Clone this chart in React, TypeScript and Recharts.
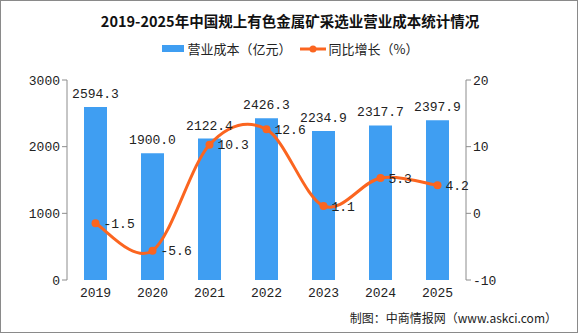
import React from 'react';
import {
  ComposedChart,
  Bar,
  Line,
  XAxis,
  YAxis,
  LabelList
} from 'recharts';

const years = ['2019', '2020', '2021', '2022', '2023', '2024', '2025'];
const cost = [2594.3, 1900.0, 2122.4, 2426.3, 2234.9, 2317.7, 2397.9];
const growth = [-1.5, -5.6, 10.3, 12.6, 1.1, 5.3, 4.2];

const leftTicks = [0, 1000, 2000, 3000];
const rightTicks = [-10, 0, 10, 20];
const boundaryTicks = [0, 1, 2, 3, 4, 5, 6, 7];

const data = years.map((y, i) => ({ year: y, cost: cost[i], growth: growth[i] }));

const BLUE = '#3f9ef2';
const ORANGE = '#fb6520';
const AXIS = '#8c8c8c';
const MONO = '"Liberation Mono", "DejaVu Sans Mono", monospace';
const CJK = '"Noto Sans CJK SC", sans-serif';

// smooth line like the spreadsheet one (catmull-rom through every point)
const smoothCurve = (context: any) => {
  let pts: number[][] = [];
  return {
    areaStart() {},
    areaEnd() {},
    lineStart() { pts = []; },
    point(x: number, y: number) { pts.push([+x, +y]); },
    lineEnd() {
      if (!pts.length) return;
      context.moveTo(pts[0][0], pts[0][1]);
      for (let i = 0; i < pts.length - 1; i++) {
        const p0 = pts[i - 1] || pts[i];
        const p1 = pts[i];
        const p2 = pts[i + 1];
        const p3 = pts[i + 2] || p2;
        context.bezierCurveTo(
          p1[0] + (p2[0] - p0[0]) / 6, p1[1] + (p2[1] - p0[1]) / 6,
          p2[0] - (p3[0] - p1[0]) / 6, p2[1] - (p3[1] - p1[1]) / 6,
          p2[0], p2[1]
        );
      }
    }
  };
};

const LegendBox = () => (
  <div style={{ position: 'absolute', top: 38, left: 0, width: 578, display: 'flex', justifyContent: 'center', alignItems: 'center', fontFamily: CJK, fontSize: 13, color: '#222' }}>
    <span style={{ display: 'inline-block', width: 22, height: 7, background: BLUE, marginRight: 4 }} />
    <span>营业成本（亿元）</span>
    <svg width={26} height={10} style={{ marginLeft: 8, marginRight: 3 }}>
      <line x1={0} y1={5} x2={26} y2={5} stroke={ORANGE} strokeWidth={3} />
      <circle cx={13} cy={5} r={3.5} fill={ORANGE} />
    </svg>
    <span>同比增长（%）</span>
  </div>
);

export default function App() {
  return (
    <div style={{ position: 'relative', width: 578, height: 333, background: '#fff', boxSizing: 'border-box', border: '1px solid #8a8a8a', overflow: 'hidden' }}>
      <style>{'body{margin:0}'}</style>
      <div style={{ position: 'absolute', top: 0, left: -1 }}>
        <ComposedChart width={578} height={333} data={data} margin={{ top: 79, right: 56, bottom: 24, left: 0 }}>
          <XAxis
            xAxisId="edge"
            type="number"
            domain={[0, 7]}
            ticks={boundaryTicks}
            tick={false}
            height={0}
            stroke={AXIS}
            tickSize={5}
          />
          <XAxis
            xAxisId="cat"
            dataKey="year"
            axisLine={false}
            tickLine={false}
            height={30}
            tick={{ fill: '#222', fontSize: 13, fontFamily: MONO }}
            tickMargin={2}
          />
          <YAxis
            yAxisId="left"
            domain={[0, 3000]}
            ticks={leftTicks}
            width={67}
            stroke={AXIS}
            tickSize={5}
            tick={{ fill: '#222', fontSize: 13, fontFamily: MONO }}
          />
          <YAxis
            yAxisId="right"
            orientation="right"
            domain={[-10, 20]}
            ticks={rightTicks}
            width={56}
            stroke={AXIS}
            tickSize={5}
            tick={{ fill: '#222', fontSize: 13, fontFamily: MONO }}
          />
          <Bar xAxisId="cat" yAxisId="left" dataKey="cost" fill={BLUE} barSize={23} isAnimationActive={false}>
            <LabelList dataKey="cost" position="top" offset={9} formatter={(v: any) => Number(v).toFixed(1)} style={{ fill: '#222', fontSize: 13, fontFamily: MONO }} />
          </Bar>
          <Line
            xAxisId="cat"
            yAxisId="right"
            dataKey="growth"
            type={smoothCurve as any}
            stroke={ORANGE}
            strokeWidth={3}
            dot={{ r: 4, fill: ORANGE, stroke: ORANGE, strokeWidth: 0 }}
            isAnimationActive={false}
          >
            <LabelList dataKey="growth" position="right" offset={8} formatter={(v: any) => Number(v).toFixed(1)} style={{ fill: '#222', fontSize: 13, fontFamily: MONO }} />
          </Line>
        </ComposedChart>
      </div>
      <div style={{ position: 'absolute', top: 9, left: 0, width: 578, textAlign: 'center', fontFamily: CJK, fontWeight: 'bold', fontSize: 14.5, color: '#111' }}>
        2019-2025年中国规上有色金属矿采选业营业成本统计情况
      </div>
      <LegendBox />
      <div style={{ position: 'absolute', right: 20, top: 308, fontFamily: CJK, fontSize: 12, color: '#222' }}>
        制图：中商情报网（www.askci.com）
      </div>
    </div>
  );
}
